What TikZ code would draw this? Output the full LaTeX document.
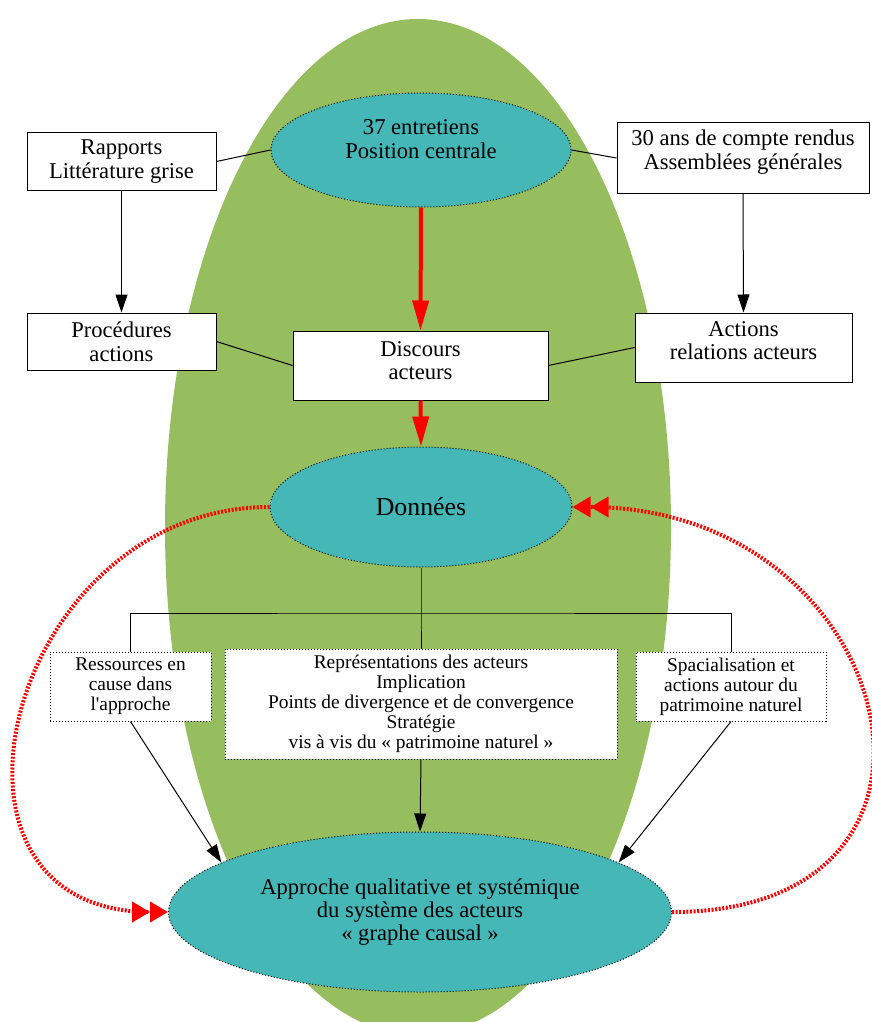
\documentclass[tikz,border=0pt]{standalone}
\usepackage{fontspec}
\setmainfont{Liberation Serif}[Ligatures=TeXOff]
\usetikzlibrary{shapes,arrows.meta,positioning}

\definecolor{vertfond}{RGB}{151,190,94}
\definecolor{turquoise}{RGB}{70,183,183}

\tikzset{
    cadre/.style={draw, fill=white, line width=0.5pt, align=center, inner sep=0pt,
        font=\fontsize{11.3}{11.8}\selectfont},
    cadrept/.style={cadre, densely dotted, font=\fontsize{9.7}{10}\selectfont},
    bulle/.style={ellipse, draw, densely dotted, line width=0.5pt, fill=turquoise,
        align=center, inner sep=0pt, font=\fontsize{11.3}{11.6}\selectfont},
    fleche/.style={-{Triangle[length=9pt,width=6pt]}, line width=0.5pt},
    flecherouge/.style={-{Triangle[length=15pt,width=8pt]}, red, line width=2pt},
    boucle/.style={red, line width=2pt, dash pattern=on 1pt off 0.8pt,
        -{Triangle[length=9pt,width=10pt] Triangle[length=9pt,width=10pt]}},
}

\begin{document}
\begin{tikzpicture}[x=0.5pt,y=-0.5pt]
    \useasboundingbox (0,0) rectangle (872,1022);

    % fond vert
    \begin{scope}
        \clip (0,0) rectangle (872,1022);
        \fill[vertfond] (418,527) ellipse [x radius=126.5pt, y radius=254pt];
    \end{scope}

    % sources
    \node[bulle, minimum width=150pt, minimum height=57pt, text depth=11pt] (entretiens) at (421,150) {37 entretiens\\Position centrale};
    \node[cadre, minimum width=94.5pt, minimum height=28.5pt] (rapports) at (121.5,161.5) {Rapports\\Littérature grise};
    \node[cadre, minimum width=126pt, minimum height=35pt, text depth=8.4pt] (comptes) at (743,158) {30 ans de compte rendus\\Assemblées générales};

    % deuxieme rang
    \node[cadre, minimum width=94.5pt, minimum height=28.5pt] (procedures) at (121.5,341.5) {Procédures\\actions};
    \node[cadre, minimum width=127.5pt, minimum height=34.5pt, text depth=5pt] (discours) at (420.5,365.5) {Discours\\acteurs};
    \node[cadre, minimum width=108.5pt, minimum height=34.5pt, text depth=7pt] (relations) at (743.5,347.5) {Actions\\relations acteurs};

    \node[bulle, minimum width=151pt, minimum height=60pt, font=\fontsize{12.9}{14}\selectfont] (donnees) at (421,507) {Données};

    % analyses
    \node[cadrept, minimum width=80.5pt, minimum height=34.5pt] (ressources) at (130.5,686.5) {Ressources en\\cause dans\\l'approche};
    \node[cadrept, minimum width=196pt, minimum height=55pt] (representations) at (421,704) {Représentations des acteurs\\Implication\\Points de divergence et de convergence\\Stratégie\\vis à vis du « patrimoine naturel »};
    \node[cadrept, minimum width=95pt, minimum height=34.5pt] (spatial) at (731,686.5) {Spacialisation et\\actions autour du\\patrimoine naturel};

    \node[bulle, minimum width=251.5pt, minimum height=80pt] (approche) at (420,912) {Approche qualitative et systémique\\du système des acteurs\\« graphe causal »};

    % liaisons
    \draw[line width=0.5pt] (rapports.east) -- (entretiens.west);
    \draw[line width=0.5pt] (comptes.west) -- (entretiens.east);
    \draw[line width=0.5pt] (procedures.east) -- (discours.west);
    \draw[line width=0.5pt] (discours.east) -- (relations.west);
    \draw[fleche] (rapports.south) -- (procedures.north);
    \draw[fleche] (comptes.south) -- (relations.north);
    \draw[flecherouge] (entretiens.south) -- (discours.north);
    \draw[flecherouge] (discours.south) -- (donnees.north);

    % arbre
    \coordinate (noeud) at (421,613);
    \draw[line width=0.5pt] (donnees.south) -- (noeud) -- (representations.north);
    \draw[line width=0.5pt] (ressources.north) |- (noeud) -| (spatial.north);
    \draw[fleche] (ressources.south) -- (approche.166);
    \draw[fleche] (representations.south) -- (approche.north);
    \draw[fleche] (spatial.south) -- (approche.14);

    % boucles
    \draw[boucle] (donnees.west) to[out=180, in=180, looseness=1.6] (approche.west);
    \draw[boucle] (approche.east) to[out=0, in=0, looseness=2.0] (donnees.east);
\end{tikzpicture}
\end{document}
